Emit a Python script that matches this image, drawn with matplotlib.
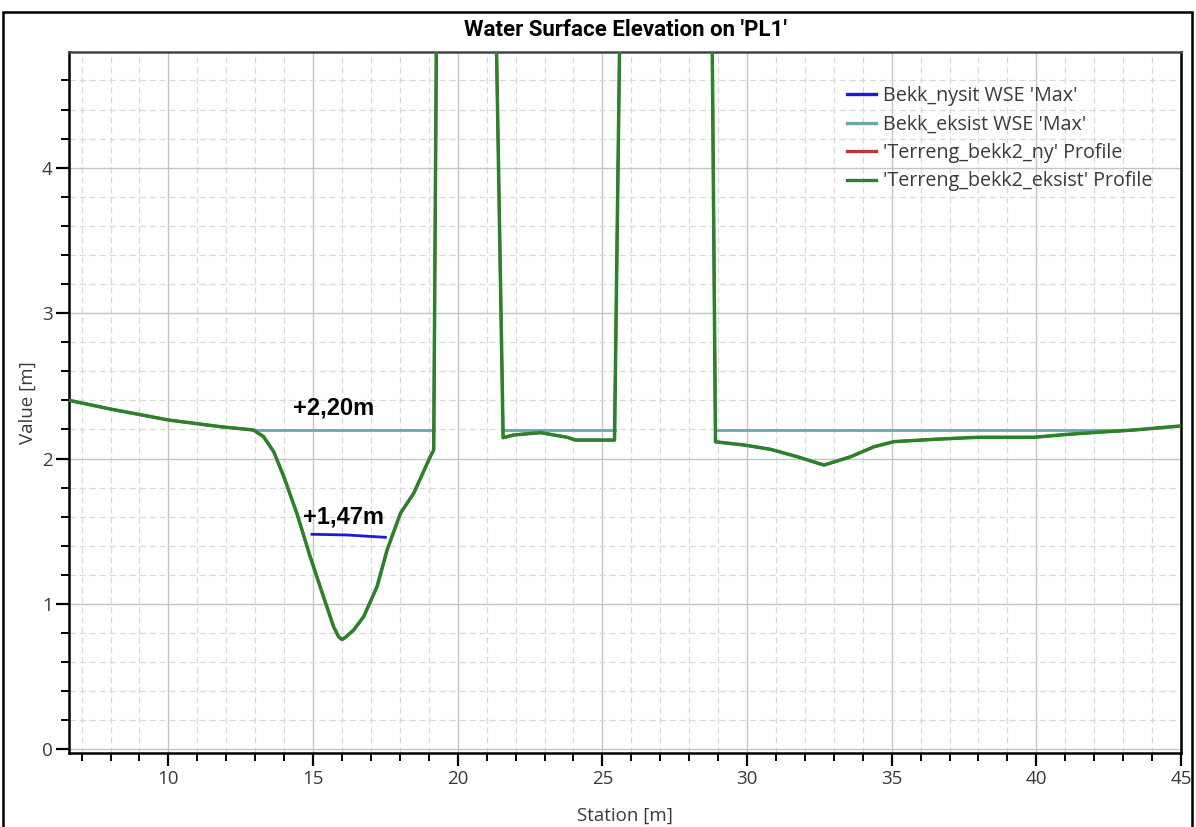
import matplotlib
matplotlib.use("Agg")
import matplotlib.pyplot as plt
from matplotlib.ticker import MultipleLocator
from matplotlib.patches import Rectangle
from matplotlib.lines import Line2D

# ---- data ----
terrain_x = [6.57, 8.0, 10.0, 11.79, 12.94, 13.29, 13.64, 13.99, 14.44, 14.90, 15.36, 15.71,
             15.88, 16.00, 16.12, 16.40, 16.75, 17.21, 17.56, 18.02, 18.48, 19.05, 19.17,
             19.30, 21.24,
             21.57, 21.94, 22.86, 23.78, 24.07, 25.42,
             25.67, 28.75,
             28.91, 29.89, 30.82, 31.74, 32.66, 33.58, 34.39, 35.08, 36.47, 37.97,
             39.92, 41.08, 42.23, 43.38, 45.0]
terrain_y = [2.40, 2.34, 2.265, 2.219, 2.196, 2.150, 2.047, 1.875, 1.623, 1.325, 1.050, 0.843,
             0.775, 0.755, 0.770, 0.820, 0.912, 1.118, 1.371, 1.623, 1.761, 2.012, 2.058,
             6.0, 6.0,
             2.143, 2.162, 2.178, 2.146, 2.127, 2.127,
             6.0, 6.0,
             2.115, 2.093, 2.063, 2.012, 1.955, 2.012, 2.081, 2.116, 2.132, 2.146,
             2.146, 2.166, 2.182, 2.196, 2.224]

wse_eksist_x = [[12.94, 19.17], [21.57, 25.42], [28.91, 43.3]]
wse_eksist_y = [[2.195, 2.195], [2.195, 2.195], [2.195, 2.195]]

wse_nysit_x = [14.96, 16.17, 17.50]
wse_nysit_y = [1.479, 1.474, 1.458]

labels = ["Bekk_nysit WSE 'Max'", "Bekk_eksist WSE 'Max'",
          "'Terreng_bekk2_ny' Profile", "'Terreng_bekk2_eksist' Profile"]
annot_text = ["+2,20m", "+1,47m"]
annot_x = [15.70, 16.06]
annot_y = [2.35, 1.60]

# ---- styles ----
C_BLUE = "#1c1cd0"
C_TEAL = "#6aa8ac"
C_RED = "#b83838"
C_GREEN = "#2a822a"
TXT = "#3a3a3a"

plt.rcParams['font.family'] = ['Open Sans', 'DejaVu Sans']

W, H = 1196, 827
fig = plt.figure(figsize=(W / 100, H / 100), dpi=100)
fig.patch.set_facecolor("white")

x0, x1, yt, yb = 69.3, 1181, 51.7, 753.3
ax = fig.add_axes([x0 / W, 1 - yb / H, (x1 - x0) / W, (yb - yt) / H])

ax.set_xlim(6.575, 45.0)
ax.set_ylim(-0.0275, 4.798)

ax.xaxis.set_major_locator(MultipleLocator(5))
ax.xaxis.set_minor_locator(MultipleLocator(1))
ax.yaxis.set_major_locator(MultipleLocator(1))
ax.yaxis.set_minor_locator(MultipleLocator(0.2))

ax.grid(which="major", color="#c4c4c4", linestyle="-", linewidth=1.0, zorder=0)
ax.grid(which="minor", color="#d9d9d9", linestyle=(0, (5, 3)), linewidth=0.9, zorder=0)
ax.set_axisbelow(True)

ax.tick_params(which="major", direction="out", length=9.5, width=1.6, color="black",
               labelsize=13.5, labelcolor=TXT, pad=2.5)
ax.tick_params(which="minor", direction="out", length=6, width=1.4, color="black")

for s in ["left", "bottom", "right"]:
    ax.spines[s].set_linewidth(1.8)
    ax.spines[s].set_color("black")
ax.spines["top"].set_linewidth(1.8)
ax.spines["top"].set_color("#444444")

# lines
ax.plot(terrain_x, terrain_y, color=C_RED, linewidth=2.0, zorder=2)
for sx, sy in zip(wse_eksist_x, wse_eksist_y):
    ax.plot(sx, sy, color=C_TEAL, linewidth=2.0, zorder=3)
ax.plot(terrain_x, terrain_y, color=C_GREEN, linewidth=2.5, zorder=4,
        solid_joinstyle="round")
ax.plot(wse_nysit_x, wse_nysit_y, color=C_BLUE, linewidth=2.0, zorder=5)

for txt, tx, ty in zip(annot_text, annot_x, annot_y):
    ax.text(tx, ty, txt, ha="center", va="center", fontsize=17, fontweight="bold",
            family=["Liberation Sans", "DejaVu Sans"], color="black", zorder=6)

ax.set_title("Water Surface Elevation on 'PL1'", fontsize=16, fontweight="bold",
             family=["Roboto", "DejaVu Sans"], color="black", pad=11)
ax.set_xlabel("Station [m]", fontsize=13.5, color=TXT)
ax.set_ylabel("Value [m]", fontsize=13.5, color=TXT)
ax.xaxis.set_label_coords(0.5, (753.3 - 807) / (753.3 - 51.7))
ax.yaxis.set_label_coords((37 - 69.3) / (1181 - 69.3), 0.5)

# legend
leg_handles = [Line2D([], [], color=c, linewidth=2.4) for c in [C_BLUE, C_TEAL, C_RED, C_GREEN]]
leg = ax.legend(leg_handles, labels, loc="upper left",
                bbox_to_anchor=(847 / W, 1 - 86 / H), bbox_transform=fig.transFigure,
                frameon=False, fontsize=14.2, handlelength=1.45, handletextpad=0.38,
                labelspacing=0.43, borderpad=0, borderaxespad=0)
for t in leg.get_texts():
    t.set_color(TXT)

# figure border
fig.patches.append(Rectangle((3 / W, -0.05), (1192 - 3) / W, 1.05 - 12 / H,
                             transform=fig.transFigure, fill=False,
                             edgecolor="black", linewidth=1.8))

fig.savefig("out.png", dpi=100)
